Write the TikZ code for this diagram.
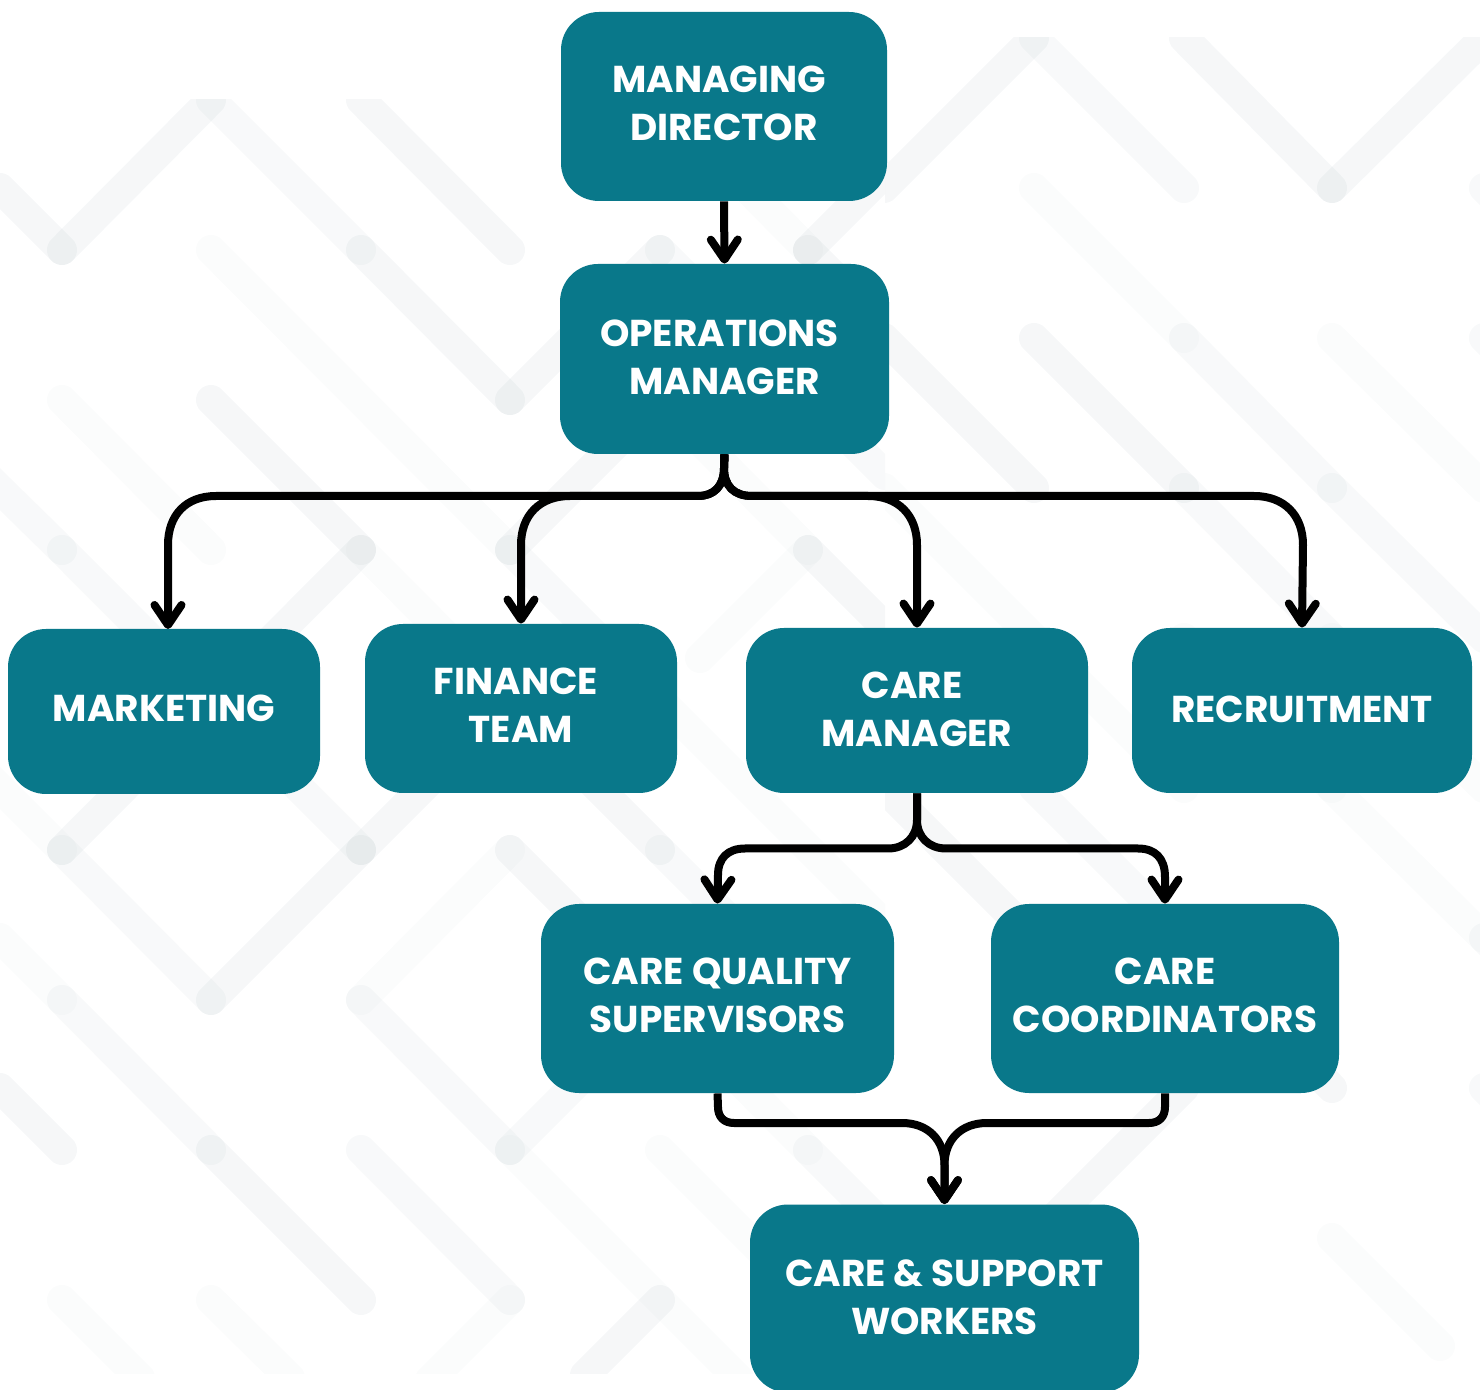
\documentclass[tikz,border=0pt]{standalone}
\usepackage{fontspec}
\setmainfont{Poppins}
\usetikzlibrary{arrows.meta}
\definecolor{teal}{HTML}{09788A}
\definecolor{bgline}{HTML}{2F5A66}
\newcommand\tx[1]{\begin{tabular}{@{}c@{}}#1\end{tabular}}
\newcommand\dn{\rule{0pt}{18.8pt}}
\tikzset{
  bgA/.style={draw=bgline,opacity=.045,line width=15pt,line cap=round},
  bgB/.style={draw=bgline,opacity=.03,line width=15pt,line cap=round},
  bgC/.style={draw=bgline,opacity=.016,line width=15pt,line cap=round},
  box/.style={fill=teal,draw=none,rounded corners=19pt,inner sep=0pt,align=center,text=white,
    font=\fontsize{18.7}{24}\selectfont\bfseries},
  conn/.style={draw=black,line width=4pt,line join=round},
  tip/.style={-{Straight Barb[length=10pt,width=13.5pt,line width=4pt,round]}}
}
\begin{document}
\begin{tikzpicture}[x=0.5pt,y=-0.5pt]
\useasboundingbox (0,0) rectangle (1480,1390);
\fill[white] (0,0) rectangle (1480,1390);
% background tile, left
\begin{scope}
\clip (0,100) rectangle (885,1373);
\foreach \a/\b in {{0,188}/{62,250},{62,250}/{211,100},{361,100}/{510,250},{361,250}/{510,400},{510,400}/{660,250},{808,250}/{885,173},{808,250}/{885,327},{211,400}/{361,550},{361,550}/{62,850},{361,850}/{211,1000},{361,850}/{435,776},{211,1150}/{361,1300},{0,1088}/{62,1150},{510,850}/{600,940},{660,1300}/{585,1375},{510,700}/{660,850},{808,550}/{885,627},{510,550}/{660,400}}
  \draw[bgA] (\a) -- (\b);
\foreach \a/\b in {{211,100}/{361,250},{660,250}/{885,475},{-40,450}/{62,550},{62,550}/{361,850},{62,850}/{211,1000},{361,1150}/{510,1300},{361,1000}/{510,1150},{510,1150}/{600,1060},{808,1150}/{885,1227},{510,550}/{660,700},{62,1000}/{211,1150},{660,850}/{735,925}}
  \draw[bgB] (\a) -- (\b);
\foreach \a/\b in {{660,100}/{808,250},{211,250}/{510,550},{660,700}/{885,925},{62,400}/{211,550},{0,938}/{62,1000},{-10,778}/{62,850},{510,1150}/{740,1380},{361,1000}/{510,850},{660,1150}/{880,1370},{510,1300}/{430,1380},{62,1300}/{140,1378},{211,1300}/{290,1378},{361,550}/{510,700},{660,1000}/{808,1150},{660,400}/{808,550},{808,550}/{700,658}}
  \draw[bgC] (\a) -- (\b);
\end{scope}
% background tile, right
\begin{scope}
\clip (885,38) rectangle (1480,1373);
\foreach \a/\b in {{884,188}/{1034,38},{1184,38}/{1332,188},{1332,188}/{1484,38},{884,338}/{1034,488},{1034,338}/{1184,488},{884,788}/{1034,938},{1184,938}/{1332,1088},{1034,1238}/{1184,1088},{1034,1238}/{960,1312}}
  \draw[bgA] (\a) -- (\b);
\foreach \a/\b in {{1184,338}/{1332,488},{1332,488}/{1484,638},{1184,488}/{1332,638},{1034,788}/{1184,938},{1034,38}/{1184,188},{1484,188}/{1530,234},{1484,338}/{1530,384},{1484,938}/{1530,984},{1484,1088}/{1530,1134}}
  \draw[bgB] (\a) -- (\b);
\foreach \a/\b in {{1034,188}/{1184,338},{1332,638}/{1484,788},{1332,338}/{1484,488},{884,488}/{1184,788},{1332,788}/{1484,938},{1184,638}/{1332,788},{1332,1238}/{1440,1346}}
  \draw[bgC] (\a) -- (\b);
\end{scope}
% boxes
\node[box,minimum width=163pt,minimum height=94.5pt] (md) at (724,106.5) {\tx{MANAGING\kern5pt\\DIRECTOR}};
\node[box,minimum width=164.5pt,minimum height=95pt] (om) at (724.5,359) {\tx{\dn OPERATIONS\kern5pt\\MANAGER}};
\node[box,minimum width=156pt,minimum height=82.5pt] (mk) at (164,711.5) {\tx{MARKETING}};
\node[box,minimum width=156pt,minimum height=84.5pt] (fi) at (521,708.5) {\tx{FINANCE\kern5pt\\TEAM}};
\node[box,minimum width=171pt,minimum height=82.5pt] (cm) at (917,710.5) {\tx{\dn CARE\kern5pt\\MANAGER}};
\node[box,minimum width=170pt,minimum height=82.5pt] (re) at (1302,710.5) {\tx{\dn RECRUITMENT}};
\node[box,minimum width=176.5pt,minimum height=94.5pt] (cq) at (717.5,998.5) {\tx{CARE QUALITY\\SUPERVISORS}};
\node[box,minimum width=174pt,minimum height=94.5pt] (cc) at (1165,998.5) {\tx{CARE\\COORDINATORS}};
\node[box,minimum width=194.5pt,minimum height=94pt] (cs) at (944.5,1298.5) {\tx{\dn CARE \& SUPPORT\\WORKERS}};
\coordinate (mkt) at (168,629);
% connectors
\draw[conn,tip] (md.south) -- (om.north);
\draw[conn,tip] (om.south) -- (724,468) .. controls (724,486) and (714,496) .. (698,496) -- (216,496) .. controls (186,496) and (168,515) .. (168,545) -- (mkt);
\draw[conn,tip] (om.south) -- (724,468) .. controls (724,486) and (714,496) .. (698,496) -- (570,496) .. controls (540,496) and (521,515) .. (521,545) -- (fi.north);
\draw[conn,tip] (om.south) -- (724,468) .. controls (724,486) and (734,496) .. (752,496) -- (868,496) .. controls (898,496) and (917,515) .. (917,545) -- (cm.north);
\draw[conn,tip] (om.south) -- (724,468) .. controls (724,486) and (734,496) .. (752,496) -- (1254,496) .. controls (1284,496) and (1303,515) .. (1303,545) -- (re.north);
\draw[conn,tip] (cm.south) -- (917,820) .. controls (917,837) and (905,848.5) .. (888,848.5) -- (745,848.5) .. controls (728,848.5) and (718,858) .. (718,875) -- (cq.north);
\draw[conn,tip] (cm.south) -- (917,820) .. controls (917,837) and (929,848.5) .. (946,848.5) -- (1138,848.5) .. controls (1155,848.5) and (1165,858) .. (1165,877) -- (cc.north);
\draw[conn,tip] (cq.south) -- (718,1107) .. controls (718,1117) and (724,1123) .. (734,1123) -- (902,1123) .. controls (928,1123) and (944.5,1140) .. (944.5,1165) -- (cs.north);
\draw[conn,tip] (cc.south) -- (1165,1107) .. controls (1165,1117) and (1159,1123) .. (1149,1123) -- (987,1123) .. controls (961,1123) and (944.5,1140) .. (944.5,1165) -- (cs.north);
\end{tikzpicture}
\end{document}
